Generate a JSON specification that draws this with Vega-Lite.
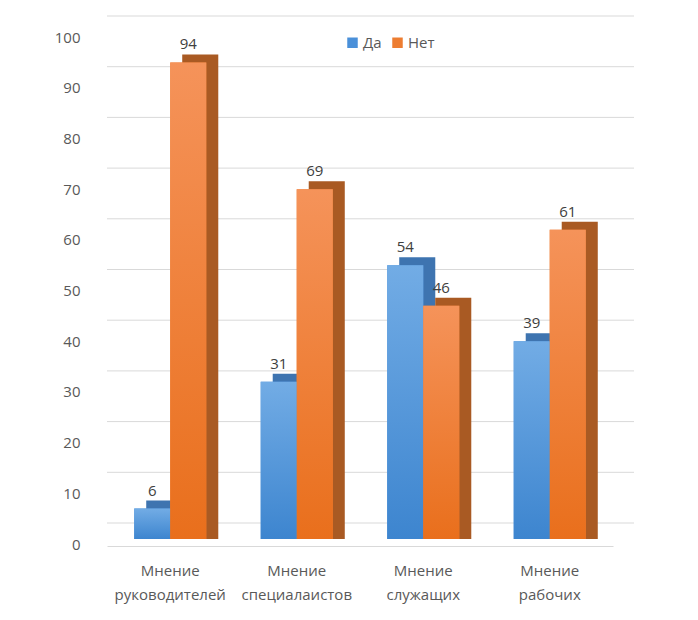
{
  "$schema": "https://vega.github.io/schema/vega-lite/v6.json",
  "width": 506,
  "height": 507,
  "autosize": "none",
  "padding": {"left": 107, "top": 32, "right": 85, "bottom": 81},
  "background": "white",
  "config": {
    "view": {"stroke": null},
    "font": "Open Sans",
    "axis": {"labelFont": "Open Sans", "labelColor": "#595959", "labelFontSize": 15},
    "legend": {"labelFont": "Open Sans", "labelColor": "#595959", "labelFontSize": 15}
  },
  "datasets": {
    "bars": [
      {"cat": "Мнение руководителей", "s": "Да", "v": 6},
      {"cat": "Мнение руководителей", "s": "Нет", "v": 94},
      {"cat": "Мнение специалаистов", "s": "Да", "v": 31},
      {"cat": "Мнение специалаистов", "s": "Нет", "v": 69},
      {"cat": "Мнение служащих", "s": "Да", "v": 54},
      {"cat": "Мнение служащих", "s": "Нет", "v": 46},
      {"cat": "Мнение рабочих", "s": "Да", "v": 39},
      {"cat": "Мнение рабочих", "s": "Нет", "v": 61}
    ],
    "grid": [
      {"g": 0}, {"g": 10}, {"g": 20}, {"g": 30}, {"g": 40}, {"g": 50},
      {"g": 60}, {"g": 70}, {"g": 80}, {"g": 90}, {"g": 100}
    ]
  },
  "data": {"name": "bars"},
  "layer": [
    {
      "data": {"name": "grid"},
      "mark": {"type": "rule", "color": "#d9d9d9", "strokeWidth": 1, "xOffset": 21, "yOffset": -16},
      "encoding": {
        "y": {"field": "g", "type": "quantitative"}
      }
    },
    {
      "encoding": {
        "x": {
          "field": "cat", "type": "nominal", "sort": null,
          "scale": {"paddingInner": 0.43, "paddingOuter": 0.215},
          "axis": {"title": null, "labelAngle": 0, "labelExpr": "split(datum.label, ' ')", "labelLineHeight": 24, "labelPadding": 17, "offset": 7, "ticks": false, "domainColor": "#d9d9d9", "labelFontSize": 15}
        },
        "y": {
          "field": "v", "type": "quantitative", "stack": null,
          "scale": {"domain": [0, 100], "nice": false, "zero": true},
          "axis": {"title": null, "values": [0,10,20,30,40,50,60,70,80,90,100], "grid": false, "domain": false, "ticks": false, "labelPadding": 27, "labelOffset": 5}
        }
      },
      "layer": [
        {
          "mark": {"type": "bar", "width": {"band": 0.5}, "xOffset": {"expr": "datum.s === 'Да' ? -6 : 30"}, "yOffset": -8},
          "encoding": {
            "fill": {"condition": {"test": "datum.s === 'Да'", "value": "#3e74b0"}, "value": "#a95a23"}
          }
        },
        {
          "mark": {"type": "bar", "width": {"band": 0.5}, "xOffset": {"expr": "datum.s === 'Да' ? -18 : 18"}},
          "encoding": {
            "color": {
              "field": "s", "type": "nominal",
              "scale": {"domain": ["Да", "Нет"], "range": ["#4a90d9", "#ed7d31"]},
              "legend": {"title": null, "orient": "none", "direction": "horizontal", "legendX": 238, "legendY": 3, "symbolType": "square", "symbolSize": 110, "columnPadding": 8, "labelOffset": 3}
            }
          }
        },
        {
          "transform": [{"filter": "datum.s === 'Да'"}],
          "mark": {"type": "bar", "width": {"band": 0.5}, "xOffset": -18,
            "fill": {"gradient": "linear", "x1": 0, "y1": 0, "x2": 0, "y2": 1,
              "stops": [{"offset": 0, "color": "#72ace5"}, {"offset": 1, "color": "#3d85cf"}]}}
        },
        {
          "transform": [{"filter": "datum.s === 'Нет'"}],
          "mark": {"type": "bar", "width": {"band": 0.5}, "xOffset": 18,
            "fill": {"gradient": "linear", "x1": 0, "y1": 0, "x2": 0, "y2": 1,
              "stops": [{"offset": 0, "color": "#f5935a"}, {"offset": 1, "color": "#e96f1c"}]}}
        },
        {
          "mark": {"type": "text", "dy": -18, "baseline": "middle", "fontSize": 15, "color": "#404040", "font": "Open Sans", "xOffset": {"expr": "datum.s === 'Да' ? -18 : 18"}},
          "encoding": {"text": {"field": "v", "type": "quantitative"}}
        }
      ]
    }
  ]
}
